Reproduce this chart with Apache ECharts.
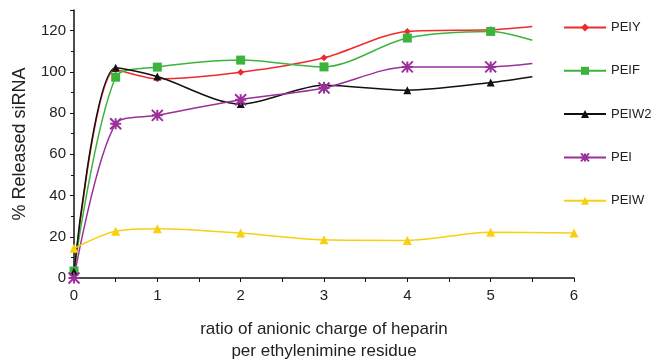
<!DOCTYPE html>
<html>
<head>
<meta charset="utf-8">
<script src="https://cdn.jsdelivr.net/npm/echarts@6/dist/echarts.min.js"></script>
<style>
  html, body { margin: 0; padding: 0; background: #fff; }
  #chart { width: 651px; height: 360px; }
</style>
</head>
<body>
<div id="chart"></div>
<script>
// heparin ratio (x) for each curve
const ratioX = [0, 0.5, 1, 2, 3, 4, 5, 5.5]
const ratioXPeiw = [0, 0.5, 1, 2, 3, 4, 5, 6]

// % released siRNA
const peiy = [1.5, 101, 96.6, 99.8, 106.8, 119.6, 120.4, 122]
const peif = [3.4, 97.4, 102.3, 105.7, 102.4, 116.4, 119.6, 115.3]
const peiw20 = [3, 102, 97.7, 84.4, 93.5, 91.1, 94.8, 97.6]
const pei = [0, 74.8, 78.9, 86.5, 92.2, 102.4, 102.4, 104]
const peiw = [14.4, 22.7, 23.9, 21.8, 18.5, 18.2, 22.2, 21.8]

const seriesNames = ['PEIY', 'PEIF', 'PEIW20', 'PEI', 'PEIW']

const asterisk = 'path://M0,0L10,10M10,0L0,10M5,0L5,10M0,5L10,5'

// points at 5.5 are curve ends only, drawn without a marker
const toPoints = (xs, ys, lastMarker) => xs.map((x, i) => {
  const p = { value: [x, ys[i]] }
  if (!lastMarker && i === xs.length - 1) p.symbol = 'none'
  return p
})

const makeSeries = (name, xs, ys, color, symbol, size, lastMarker, extra) => Object.assign({
  name,
  type: 'line',
  data: toPoints(xs, ys, lastMarker),
  smooth: 0.3,
  symbol,
  symbolSize: size,
  showAllSymbol: true,
  lineStyle: { color, width: 1.5 },
  itemStyle: { color }
}, extra || {})

const chart = echarts.init(document.getElementById('chart'))

chart.setOption({
  animation: false,
  textStyle: { fontFamily: 'Liberation Sans, Arial, sans-serif' },
  grid: { left: 74, right: 77, top: 10, bottom: 82, outerBoundsMode: 'none', containLabel: false },
  legend: {
    data: seriesNames,
    orient: 'vertical',
    left: 558,
    top: 16,
    itemWidth: 42,
    itemHeight: 10,
    itemGap: 30.3,
    textStyle: { fontSize: 13, color: '#222' }
  },
  xAxis: {
    type: 'value',
    min: 0,
    max: 6,
    interval: 1,
    name: 'ratio of anionic charge of heparin\nper ethylenimine residue',
    nameLocation: 'middle',
    nameGap: 40,
    nameTextStyle: { fontSize: 17, color: '#222', lineHeight: 22 },
    axisLine: { lineStyle: { color: '#111', width: 1.5 } },
    axisTick: { length: 4, lineStyle: { color: '#111' } },
    minorTick: { show: true, splitNumber: 2, length: 4, lineStyle: { color: '#111' } },
    axisLabel: { fontSize: 15, color: '#222', margin: 10 },
    splitLine: { show: false }
  },
  yAxis: {
    type: 'value',
    min: 0,
    max: 130,
    interval: 20,
    name: '% Released siRNA',
    nameLocation: 'middle',
    nameGap: 45,
    nameTextStyle: { fontSize: 18, color: '#222' },
    axisLine: { show: true, lineStyle: { color: '#111', width: 1.5 } },
    axisTick: { show: true, length: 4, lineStyle: { color: '#111' } },
    minorTick: { show: true, splitNumber: 2, length: 3, lineStyle: { color: '#111' } },
    axisLabel: {
      fontSize: 15,
      color: '#222',
      margin: 8,
      formatter: v => (v > 120 ? '' : v)
    },
    splitLine: { show: false }
  },
  series: [
    makeSeries('PEIY', ratioX, peiy, '#f02a2a', 'diamond', 7, false),
    makeSeries('PEIF', ratioX, peif, '#3cb43c', 'rect', 9, false),
    makeSeries('PEIW20', ratioX, peiw20, '#111111', 'triangle', 8, false),
    makeSeries('PEI', ratioX, pei, '#9b309b', asterisk, 11, false, {
      itemStyle: { color: '#9b309b', borderColor: '#9b309b', borderWidth: 2 }
    }),
    makeSeries('PEIW', ratioXPeiw, peiw, '#f8d010', 'triangle', 9, true)
  ]
})
</script>
</body>
</html>
